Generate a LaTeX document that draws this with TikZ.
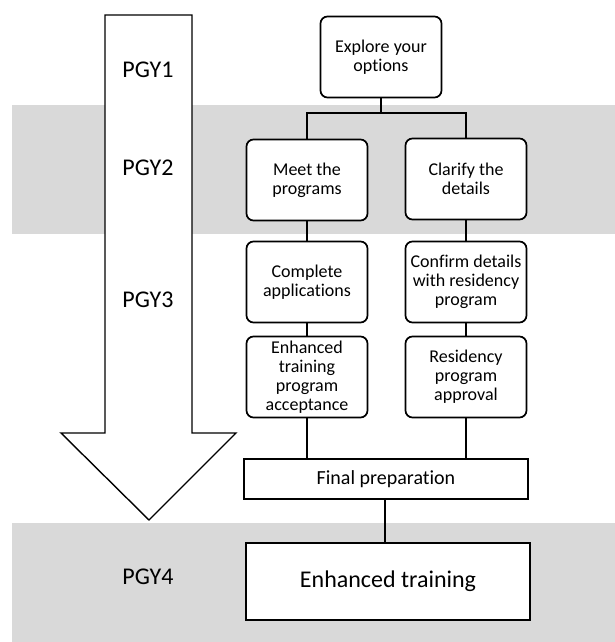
\documentclass[tikz,border=0pt]{standalone}
\usepackage{fontspec}
\setmainfont{Carlito}[Ligatures=NoCommon]
\usetikzlibrary{positioning}

\begin{document}
\begin{tikzpicture}[x=1pt, y=-1pt, line width=1.7pt,
  box/.style={draw, rounded corners=7pt, fill=white, align=center, minimum width=121pt, minimum height=81pt, inner sep=2pt, font=\fontsize{18}{19}\selectfont},
  wide/.style={draw, fill=white, align=center, minimum width=284pt, inner sep=2pt},
  year/.style={font=\fontsize{24}{26}\selectfont},
  band/.style={fill=black!15, draw=none}]
\useasboundingbox (0,0) rectangle (615,642);
% year bands
\fill[band] (12,105) rectangle (615,234);
\fill[band] (12,523) rectangle (615,642);
% time arrow
\draw[fill=white, line width=1.4pt] (105,15) -- (192,15) -- (192,433) -- (236,433) -- (149,520) -- (61,433) -- (105,433) -- cycle;
\node[year] (y1) at (148,70) {PGY1};
\node[year] (y2) at (148,168) {PGY2};
\node[year] (y3) at (148,300) {PGY3};
\node[year] (y4) at (148,577) {PGY4};
% steps
\node[box] (explore) at (381,57) {Explore your\\options};
\node[box] (meet) at (307,180) {Meet the\\programs};
\node[box] (clarify) at (466,179) {Clarify the\\details};
\node[box] (complete) at (307,282) {Complete\\applications};
\node[box] (confirm) at (466,282) {Confirm details\\with residency\\program};
\node[box] (accept) at (307,377) {Enhanced\\training\\program\\acceptance};
\node[box] (approve) at (466,377) {Residency\\program\\approval};
\node[wide, minimum height=40pt, font=\fontsize{20}{22}\selectfont] (final) at (386,479) {Final preparation};
\node[wide, minimum height=77pt, font=\fontsize{24}{26}\selectfont] (training) at (388,581.5) {Enhanced training};
\coordinate (split) at (381,113);
\draw (explore) -- (split);
\draw (split) -| (meet);
\draw (split) -| (clarify);
\draw (meet) -- (complete);
\draw (clarify) -- (confirm);
\draw (complete) -- (accept);
\draw (confirm) -- (approve);
\draw (accept.south) -- (accept.south |- final.north);
\draw (approve.south) -- (approve.south |- final.north);
\draw (final.south -| 385,0) -- (training.north -| 385,0);
\end{tikzpicture}
\end{document}
